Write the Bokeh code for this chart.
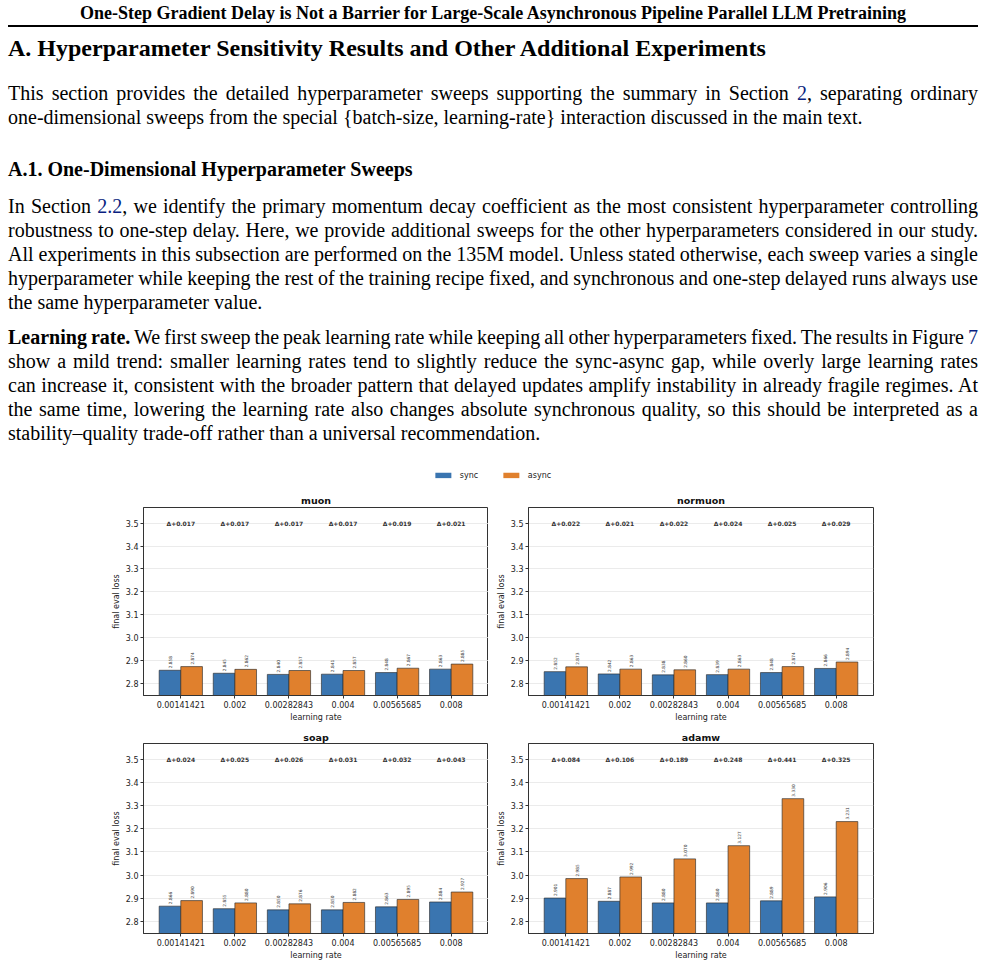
from bokeh.plotting import figure
from bokeh.models import (Div, FactorRange, Range1d, FixedTicker, PrintfTickFormatter,
                          ColumnDataSource, Legend, LegendItem)
from bokeh.layouts import column, row
from bokeh.transform import dodge
from bokeh.core.properties import value
from bokeh.embed import file_html
from bokeh.resources import INLINE

# ---------------- data ----------------
lrs = ["0.00141421", "0.002", "0.00282843", "0.004", "0.00565685", "0.008"]
yticks = [2.8, 2.9, 3.0, 3.1, 3.2, 3.3, 3.4, 3.5]

muon_sync = [2.858, 2.845, 2.840, 2.841, 2.848, 2.863]
muon_async = [2.874, 2.862, 2.857, 2.857, 2.867, 2.885]
muon_delta = [0.017, 0.017, 0.017, 0.017, 0.019, 0.021]

normuon_sync = [2.852, 2.842, 2.838, 2.839, 2.848, 2.866]
normuon_async = [2.873, 2.863, 2.860, 2.863, 2.874, 2.894]
normuon_delta = [0.022, 0.021, 0.022, 0.024, 0.025, 0.029]

soap_sync = [2.866, 2.855, 2.850, 2.850, 2.863, 2.884]
soap_async = [2.890, 2.880, 2.876, 2.882, 2.895, 2.927]
soap_delta = [0.024, 0.025, 0.026, 0.031, 0.032, 0.043]

adamw_sync = [2.901, 2.887, 2.880, 2.880, 2.889, 2.906]
adamw_async = [2.985, 2.992, 3.070, 3.127, 3.330, 3.231]
adamw_delta = [0.084, 0.106, 0.189, 0.248, 0.441, 0.325]

BLUE = "#3a75b0"
ORANGE = "#e0802d"
EDGE = "#2a2a2a"
AX = "#333333"
FONT = "DejaVu Sans"

# ---------------- text block ----------------
LINK = "#0a1f80"
def lk(t):
    return f'<span style="color:{LINK}">{t}</span>'

text_lines = [
    # baseline(page px), html, font px, bold, align
    (19, "One-Step Gradient Delay is Not a Barrier for Large-Scale Asynchronous Pipeline Parallel LLM Pretraining", 18, True, "center"),
    (56, "A. Hyperparameter Sensitivity Results and Other Additional Experiments", 24, True, "left"),
    (100, f"This section provides the detailed hyperparameter sweeps supporting the summary in Section {lk('2')}, separating ordinary", 20, False, "justify"),
    (124, "one-dimensional sweeps from the special {batch-size, learning-rate} interaction discussed in the main text.", 20, False, "left"),
    (176, "A.1. One-Dimensional Hyperparameter Sweeps", 20, True, "left"),
    (213, f"In Section {lk('2.2')}, we identify the primary momentum decay coefficient as the most consistent hyperparameter controlling", 20, False, "justify"),
    (237, "robustness to one-step delay. Here, we provide additional sweeps for the other hyperparameters considered in our study.", 20, False, "justify"),
    (261, "All experiments in this subsection are performed on the 135M model. Unless stated otherwise, each sweep varies a single", 20, False, "justify"),
    (285, "hyperparameter while keeping the rest of the training recipe fixed, and synchronous and one-step delayed runs always use", 20, False, "justify"),
    (309, "the same hyperparameter value.", 20, False, "left"),
    (344, f"<b>Learning rate.</b> We first sweep the peak learning rate while keeping all other hyperparameters fixed. The results in Figure {lk('7')}", 20, False, "justify"),
    (368, "show a mild trend: smaller learning rates tend to slightly reduce the sync-async gap, while overly large learning rates", 20, False, "justify"),
    (392, "can increase it, consistent with the broader pattern that delayed updates amplify instability in already fragile regimes. At", 20, False, "justify"),
    (416, "the same time, lowering the learning rate also changes absolute synchronous quality, so this should be interpreted as a", 20, False, "justify"),
    (440, "stability\u2013quality trade-off rather than a universal recommendation.", 20, False, "left"),
]

DIV_H = 460
parts = [f'<div style="position:relative;width:987px;height:{DIV_H}px;font-family:\'Liberation Serif\',\'Times New Roman\',serif;color:#000;">']
for bl, html, fs, bold, align in text_lines:
    top = bl - 0.8375 * fs
    ws = "-1.5px" if align == "justify" else "normal"
    parts.append(
        f'<div style="position:absolute;left:8px;top:{top:.1f}px;width:970px;height:{fs}px;'
        f'line-height:{fs}px;font-size:{fs}px;font-weight:{"bold" if bold else "normal"};'
        f'text-align:{align};text-align-last:{align};word-spacing:{ws};">{html}</div>')
parts.append('<div style="position:absolute;left:8px;top:25px;width:970px;height:2px;background:#000;"></div>')
parts.append('</div>')
text_div = Div(text="".join(parts), width=987, height=DIV_H, margin=0)

# ---------------- legend strip ----------------
lf = figure(width=984, height=30, output_backend="svg", toolbar_location=None,
            x_range=Range1d(0, 1), y_range=Range1d(0, 1), x_axis_location=None,
            y_axis_location=None, min_border=0)
lf.grid.visible = False
lf.outline_line_color = None
# legend proxies (placed outside the visible range)
r1 = lf.vbar(x=[5], top=[5], bottom=[4], width=0.4, fill_color=BLUE, line_color=None)
r2 = lf.vbar(x=[5], top=[5], bottom=[4], width=0.4, fill_color=ORANGE, line_color=None)
leg = Legend(items=[LegendItem(label="sync", renderers=[r1]), LegendItem(label="async", renderers=[r2])],
             orientation="horizontal", location="center", glyph_width=20, glyph_height=7,
             label_text_font_size="8px", label_text_font=FONT, label_text_color="#222222",
             label_standoff=7, spacing=21, padding=0, margin=0, border_line_color=None,
             background_fill_alpha=0, label_height=9)
lf.add_layout(leg, "center")

# ---------------- panels ----------------
def make_panel(name, sync, asyn, delta, bl, br, bt, bb, fh, tstand):
    src = ColumnDataSource(dict(
        lr=lrs, sync=sync, asyn=asyn,
        sl=[f"{v:.3f}" for v in sync], al=[f"{v:.3f}" for v in asyn],
        dl=[f"\u0394+{d:.3f}" for d in delta]))
    p = figure(x_range=FactorRange(factors=lrs, range_padding=0.19, range_padding_units="absolute"),
               y_range=Range1d(2.748, 3.568), width=bl + 345 + br, height=bt + fh + bb,
               output_backend="svg", toolbar_location=None,
               min_border_left=bl, min_border_right=br, min_border_top=bt, min_border_bottom=bb)
    p.title.text = name
    p.title.align = "center"
    p.title.text_font = FONT
    p.title.text_font_size = "9.5px"
    p.title.text_font_style = "bold"
    p.title.text_color = "#111111"
    p.title.standoff = tstand
    p.title.offset = 0

    p.vbar(x=dodge("lr", -0.2, range=p.x_range), top="sync", bottom=2.0, width=0.4, source=src,
           fill_color=BLUE, line_color=EDGE, line_width=0.8, line_alpha=0.8)
    p.vbar(x=dodge("lr", 0.2, range=p.x_range), top="asyn", bottom=2.0, width=0.4, source=src,
           fill_color=ORANGE, line_color=EDGE, line_width=0.8, line_alpha=0.8)

    p.text(x=dodge("lr", -0.2, range=p.x_range), y="sync", text="sl", source=src, angle=1.5707963,
           text_align="left", text_baseline="middle", y_offset=-2, text_font=value(FONT),
           text_font_size="4.3px", text_color="#333333")
    p.text(x=dodge("lr", 0.2, range=p.x_range), y="asyn", text="al", source=src, angle=1.5707963,
           text_align="left", text_baseline="middle", y_offset=-2, text_font=value(FONT),
           text_font_size="4.3px", text_color="#333333")
    p.text(x="lr", y=3.5, text="dl", source=src, text_align="center", text_baseline="middle",
           text_font=value(FONT), text_font_size="6px", text_font_style="bold", text_color="#333333")

    p.xgrid.visible = False
    p.ygrid.grid_line_color = "#e6e6e6"
    p.ygrid.grid_line_width = 0.8
    p.yaxis.ticker = FixedTicker(ticks=yticks)
    p.yaxis.formatter = PrintfTickFormatter(format="%.1f")
    p.yaxis.minor_tick_line_color = None
    p.yaxis.axis_label = "final eval loss"
    p.xaxis.axis_label = "learning rate"
    for ax in (p.xaxis, p.yaxis):
        ax.axis_line_color = AX
        ax.axis_line_width = 1
        ax.major_tick_line_color = AX
        ax.major_tick_out = 3
        ax.major_tick_in = 0
        ax.major_label_text_font = FONT
        ax.major_label_text_font_size = "8px"
        ax.major_label_text_color = "#222222"
        ax.axis_label_text_font = FONT
        ax.axis_label_text_font_size = "8px"
        ax.axis_label_text_font_style = "normal"
        ax.axis_label_text_color = "#222222"
        ax.major_label_standoff = 2
        ax.axis_label_standoff = 2
    p.outline_line_color = AX
    p.outline_line_width = 1
    p.outline_line_alpha = 1
    return p

p1 = make_panel("muon", muon_sync, muon_async, muon_delta, 143, 0, 17, 29, 188, 4)
p2 = make_panel("normuon", normuon_sync, normuon_async, normuon_delta, 40, 10, 17, 29, 188, 4)
p3 = make_panel("soap", soap_sync, soap_async, soap_delta, 143, 0, 19, 29, 190, 2)
p4 = make_panel("adamw", adamw_sync, adamw_async, adamw_delta, 40, 10, 19, 29, 190, 2)

layout = column(text_div, lf, row(p1, p2), row(p3, p4))
open("out.html", "w").write(file_html(layout, INLINE))
